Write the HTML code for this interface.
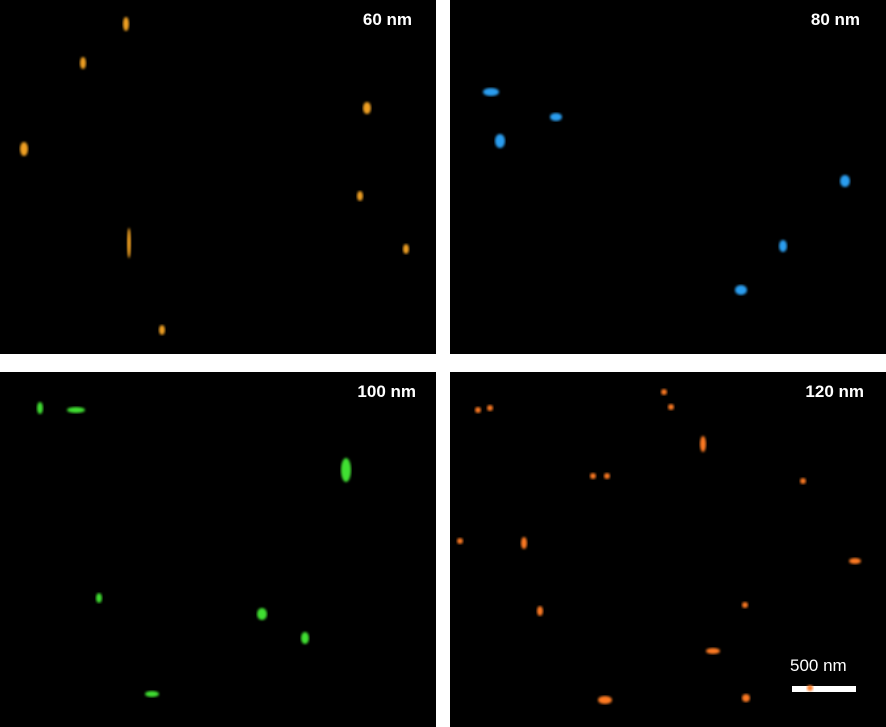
<!DOCTYPE html>
<html><head><meta charset="utf-8"><style>
body{margin:0;background:#fff;width:886px;height:727px;position:relative;overflow:hidden;font-family:"Liberation Sans",sans-serif}
.panel{position:absolute;background:#000}
.lbl{position:absolute;color:#fff;font-weight:bold;font-size:17px}
</style></head><body>
<div class="panel" style="left:0;top:0;width:436px;height:354px"><div class="lbl" style="right:24px;top:10px">60 nm</div></div>
<div class="panel" style="left:450px;top:0;width:436px;height:354px"><div class="lbl" style="right:26px;top:10px">80 nm</div></div>
<div class="panel" style="left:0;top:372px;width:436px;height:355px"><div class="lbl" style="right:20px;top:10px">100 nm</div></div>
<div class="panel" style="left:450px;top:372px;width:436px;height:355px"><div class="lbl" style="right:22px;top:10px">120 nm</div>
<div class="lbl" style="left:340px;top:284px;font-weight:normal;font-size:17px">500 nm</div>
<div style="position:absolute;left:342px;top:314px;width:64px;height:6px;background:#fff"></div></div>
<svg id="s" width="886" height="727" style="position:absolute;left:0;top:0"><defs><filter id="b"><feGaussianBlur stdDeviation="1.2"/></filter></defs></svg>
<script>
const spots60=[[126,24,3,7],[83,63,3,6],[367,108,4,6],[24,149,4,7],[360,196,3,5],[129,243,2,15],[406,249,3,5],[162,330,3,5]];
const spots80=[[491,92,8,4],[556,117,6,4],[500,141,5,7],[845,181,5,6],[783,246,4,6],[741,290,6,5]];
const spots100=[[40,408,3,6],[76,410,9,3],[346,470,5,12],[99,598,3,5],[262,614,5,6],[305,638,4,6],[152,694,7,3]];
const spots120=[[478,410,3,3],[490,408,3,3],[664,392,3,3],[671,407,3,3],[703,444,3,8],[593,476,3,3],[607,476,3,3],[803,481,3,3],[460,541,3,3],[524,543,3,6],[855,561,6,3],[540,611,3,5],[745,605,3,3],[713,651,7,3],[605,700,7,4],[746,698,4,4],[810,688,3,3]];
const s=document.getElementById('s');
function draw(arr,col,name){arr.forEach(p=>{const e=document.createElementNS('http://www.w3.org/2000/svg','ellipse');
e.setAttribute('cx',p[0]);e.setAttribute('cy',p[1]);e.setAttribute('rx',p[2]);e.setAttribute('ry',p[3]);e.setAttribute('fill',col);e.setAttribute('filter','url(#b)');


s.appendChild(e);});}
draw(spots60,'#f0a020','spot-60nm');draw(spots80,'#2a9ef0','spot-80nm');draw(spots100,'#40e030','spot-100nm');draw(spots120,'#ff7a20','spot-120nm');
</script>
</body></html>
